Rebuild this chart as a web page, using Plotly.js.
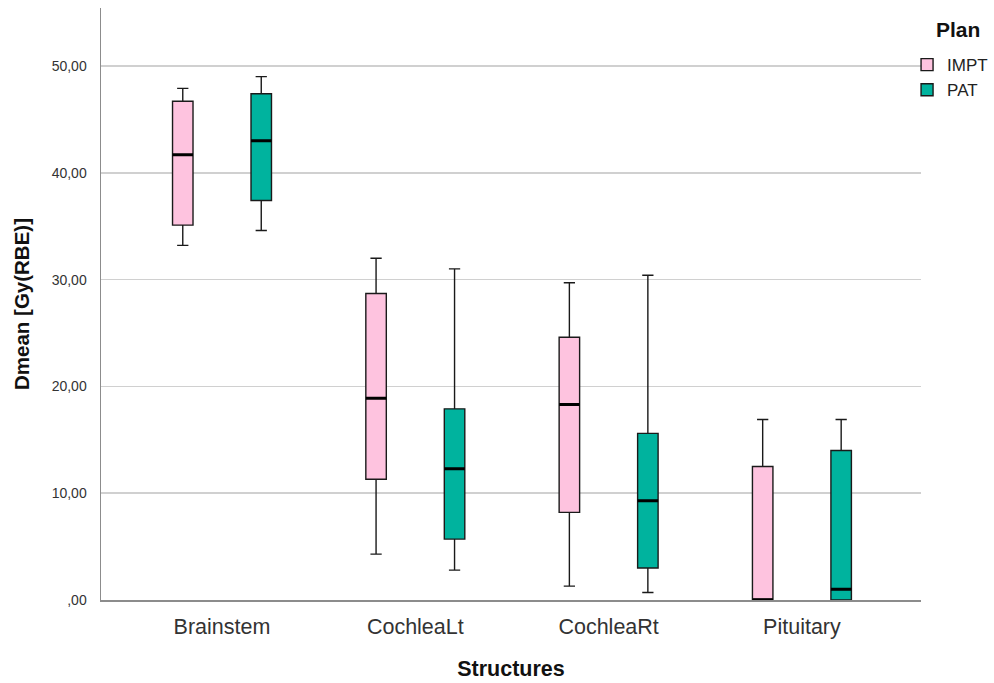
<!DOCTYPE html>
<html>
<head>
<meta charset="utf-8">
<script src="https://cdn.plot.ly/plotly-3.0.1.min.js"></script>
<style>
  html, body { margin: 0; padding: 0; background: #fff; }
  #chart { width: 994px; height: 683px; }
</style>
</head>
<body>
<div id="chart"></div>
<script>
// Mean dose per structure, summarised as box statistics for each plan
const structures = ['Brainstem', 'CochleaLt', 'CochleaRt', 'Pituitary'];

const imptLower  = [33.2, 4.3, 1.3, 0.0];
const imptQ1     = [35.1, 11.3, 8.2, 0.0];
const imptMedian = [41.7, 18.9, 18.3, 0.0];
const imptQ3     = [46.7, 28.7, 24.6, 12.5];
const imptUpper  = [47.9, 32.0, 29.7, 16.9];

const patLower  = [34.6, 2.8, 0.7, 0.0];
const patQ1     = [37.4, 5.7, 3.0, 0.0];
const patMedian = [43.0, 12.3, 9.3, 1.0];
const patQ3     = [47.4, 17.9, 15.6, 14.0];
const patUpper  = [49.0, 31.0, 30.4, 16.9];

const yTickVals = [0, 10, 20, 30, 40, 50];
const yTickText = [',00', '10,00', '20,00', '30,00', '40,00', '50,00'];

const FONT = 'Liberation Sans, Arial, sans-serif';
const EDGE = '#1a1a1a';

function planBox(name, color, lower, q1, med, q3, upper) {
  return {
    type: 'box', name: name, x: structures, offsetgroup: name,
    lowerfence: lower, q1: q1, median: med, q3: q3, upperfence: upper,
    fillcolor: color, line: { color: EDGE, width: 1.4 },
    whiskerwidth: 0.55, boxpoints: false, hoverinfo: 'y'
  };
}

// Thick median bar drawn as a flat box on top of each plan's box
function medianBar(name, med) {
  return {
    type: 'box', name: name, x: structures, offsetgroup: name,
    lowerfence: med, q1: med, median: med, q3: med, upperfence: med,
    fillcolor: 'rgba(0,0,0,0)', line: { color: '#000', width: 3 },
    whiskerwidth: 0, boxpoints: false,
    showlegend: false, hoverinfo: 'skip'
  };
}

const data = [
  planBox('IMPT', '#FEC3DF', imptLower, imptQ1, imptMedian, imptQ3, imptUpper),
  planBox('PAT', '#00B39E', patLower, patQ1, patMedian, patQ3, patUpper),
  medianBar('IMPT', imptMedian),
  medianBar('PAT', patMedian)
];

const layout = {
  width: 994, height: 683,
  paper_bgcolor: '#fff', plot_bgcolor: '#fff',
  margin: { l: 101, r: 73, t: 8, b: 83, autoexpand: false },
  font: { family: FONT, color: '#222' },
  boxmode: 'group', boxgap: 0.188, boxgroupgap: 0.739,
  showlegend: true,
  legend: {
    x: 0.983, xanchor: 'left', y: 0.934, yanchor: 'top',
    font: { size: 17, color: '#222' },
    bgcolor: 'rgba(0,0,0,0)',
    traceorder: 'normal', itemclick: false
  },
  annotations: [{
    text: '<b>Plan</b>', xref: 'paper', yref: 'paper',
    x: 1.0455, xanchor: 'center', y: 0.963, yanchor: 'middle',
    showarrow: false, font: { size: 21, color: '#111' }
  }],
  xaxis: {
    type: 'category', range: [-0.626, 3.616],
    showline: true, linecolor: '#8c8c8c', linewidth: 1.5,
    showgrid: false, zeroline: false,
    ticks: 'outside', ticklen: 7, tickcolor: 'rgba(0,0,0,0)',
    tickfont: { size: 21.5, color: '#333' },
    title: { text: '<b>Structures</b>', font: { size: 21.5, color: '#111' }, standoff: 22 },
    automargin: false
  },
  yaxis: {
    range: [0, 55.43],
    tickvals: yTickVals, ticktext: yTickText,
    showline: true, linecolor: '#8c8c8c', linewidth: 1.5,
    showgrid: true, gridcolor: '#d0d0d0', gridwidth: 1.5,
    zeroline: false,
    ticks: 'outside', ticklen: 10, tickcolor: 'rgba(0,0,0,0)',
    tickfont: { size: 14, color: '#333' },
    title: { text: '<b>Dmean [Gy(RBE)]</b>', font: { size: 20.5, color: '#111' }, standoff: 16 },
    automargin: false
  }
};

Plotly.newPlot('chart', data, layout, { displayModeBar: false, staticPlot: true });
</script>
</body>
</html>
